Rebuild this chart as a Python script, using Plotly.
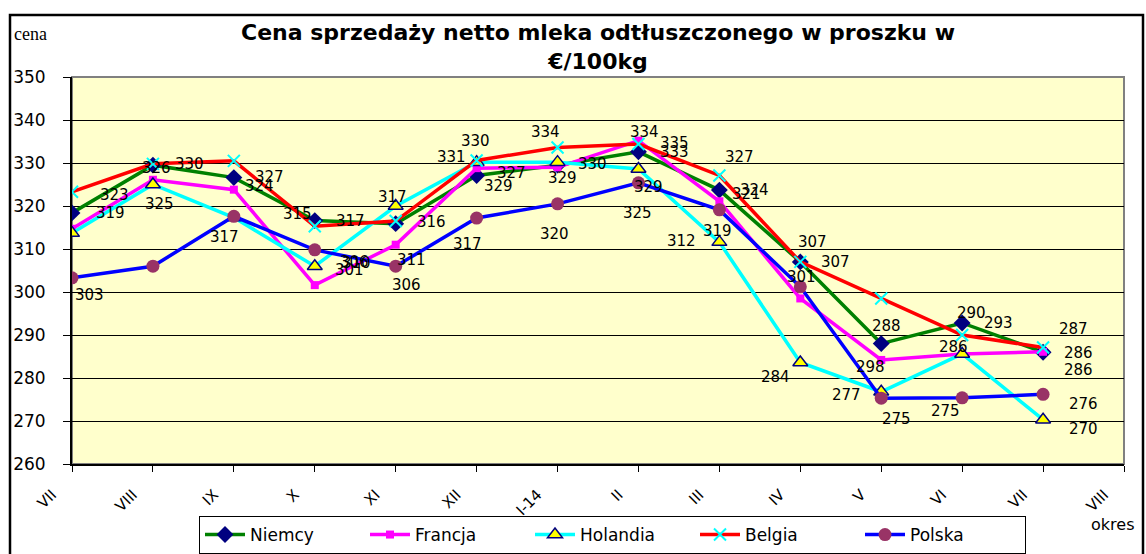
import plotly.graph_objects as go

# ---------------- data ----------------
categories = ["VII", "VIII", "IX", "X", "XI", "XII", "I-14", "II", "III", "IV", "V", "VI", "VII", "VIII"]

niemcy = [318.4, 329.5, 326.6, 316.6, 315.9, 327.1, 329.5, 332.6, 323.7, 307.0, 288.0, 292.8, 286.0]
francja = [314.7, 326.1, 323.8, 301.6, 311.0, 328.8, 329.0, 335.2, 321.1, 298.5, 284.2, 285.6, 286.1]
holandia = [313.7, 325.0, 317.3, 306.0, 320.0, 330.2, 330.2, 328.6, 311.6, 283.6, 276.8, 285.6, 270.3]
belgia = [323.3, 329.8, 330.5, 315.3, 316.5, 330.6, 333.6, 334.4, 327.1, 307.0, 298.5, 290.0, 287.1]
polska = [303.3, 306.0, 317.6, 309.8, 306.0, 317.2, 320.5, 325.4, 319.1, 301.2, 275.3, 275.4, 276.2]

# data labels as printed on the chart ("" = hidden / overlapped)
niemcy_labels = ["319", "330", "327", "317", "316", "327", "", "333", "324", "307", "288", "293", "286"]
francja_labels = ["", "326", "324", "301", "311", "329", "329", "335", "321", "298", "", "", "286"]
holandia_labels = ["", "325", "", "306", "", "330", "330", "329", "312", "284", "277", "286", "270"]
belgia_labels = ["323", "", "", "315", "317", "331", "334", "334", "327", "307", "", "290", "287"]
polska_labels = ["303", "", "317", "310", "306", "317", "320", "325", "319", "301", "275", "275", "276"]

# ---------------- styles ----------------
# label offsets in screen pixels (dx right, dy down)
niemcy_off = [(38, 0), (37, -1), (36, -1), (36, 0), (36, -2), (35, -2), (0, 0), (36, 0), (35, 0), (35, 0), (5, -18), (36, 0), (35, 1)]
francja_off = [(0, 0), (4, -12), (26, -4), (35, -15), (16, 15), (22, 18), (5, 11), (36, 2), (27, -7), (70, 69), (0, 0), (0, 0), (35, 18)]
holandia_off = [(0, 0), (7, 19), (0, 0), (40, -4), (0, 0), (-1, -21), (35, 2), (10, 18), (-38, -1), (-25, 14), (-35, 3), (-9, -7), (40, 9)]
belgia_off = [(42, 3), (0, 0), (0, 0), (-17, -12), (-3, -24), (-25, -3), (-12, -16), (6, -12), (20, -18), (12, -20), (0, 0), (9, -22), (30, -18)]
polska_off = [(17, 17), (0, 0), (-9, 21), (42, 13), (11, 19), (-9, 26), (-3, 30), (-1, 30), (-2, 21), (1, -10), (15, 21), (-17, 13), (40, 10)]

FONT = "DejaVu Sans, Arial, sans-serif"

series = [
    ("Niemcy", niemcy, niemcy_labels, niemcy_off,
     dict(color="#008000", width=3.5),
     dict(symbol="diamond", size=13, color="#000080")),
    ("Francja", francja, francja_labels, francja_off,
     dict(color="#FF00FF", width=3.5),
     dict(symbol="square", size=8, color="#FF00FF")),
    ("Holandia", holandia, holandia_labels, holandia_off,
     dict(color="#00FFFF", width=3.5),
     dict(symbol="triangle-up", size=13, color="#FFFF00", line=dict(color="#000080", width=1.5))),
    ("Belgia", belgia, belgia_labels, belgia_off,
     dict(color="#FF0000", width=3.5),
     dict(symbol="x-thin", size=12, color="#00FFFF", line=dict(color="#00FFFF", width=2))),
    ("Polska", polska, polska_labels, polska_off,
     dict(color="#0000FF", width=3.5),
     dict(symbol="circle", size=13, color="#993366")),
]

fig = go.Figure()
annotations = []
xs = list(range(len(niemcy)))
for name, vals, labels, offs, line, marker in series:
    fig.add_trace(go.Scatter(x=xs, y=vals, name=name, mode="lines+markers",
                             line=line, marker=marker))
    for i, (v, t, (dx, dy)) in enumerate(zip(vals, labels, offs)):
        if t:
            annotations.append(dict(x=i, y=v, xref="x", yref="y", text=t, showarrow=False,
                                    xshift=dx, yshift=-dy,
                                    font=dict(family=FONT, size=15, color="black")))

# plot-area geometry (pixels)
W, H = 1146, 554
L, R, T, B = 72, 22, 77, 90
pw, ph = W - L - R, H - T - B

def px(x):
    return (x - L) / pw

def py(y):
    return (H - B - y) / ph

annotations += [
    dict(xref="paper", yref="paper", x=px(598), y=py(47), xanchor="center", yanchor="middle",
         showarrow=False,
         text="<b>Cena sprzedaży netto mleka odtłuszczonego w proszku w<br>€/100kg</b>",
         font=dict(family=FONT, size=22, color="black")),
    dict(xref="paper", yref="paper", x=px(12), y=py(34), xanchor="left", yanchor="middle",
         showarrow=False,
         text="cena", font=dict(family="Liberation Serif, Times New Roman, serif", size=18, color="black")),
    dict(xref="paper", yref="paper", x=px(1112), y=py(524), xanchor="center", yanchor="middle",
         showarrow=False,
         text="okres", font=dict(family=FONT, size=16, color="black")),
]

shapes = [
    dict(type="rect", xref="paper", yref="paper", x0=0, x1=1, y0=0, y1=1,
         line=dict(color="#808080", width=2), layer="below"),
    dict(type="rect", xref="paper", yref="paper", x0=px(10), x1=px(1143), y0=py(560), y1=py(15),
         line=dict(color="black", width=2.5), layer="above"),
]

fig.update_layout(
    width=W, height=H,
    margin=dict(l=L, r=R, t=T, b=B, autoexpand=False),
    paper_bgcolor="white",
    plot_bgcolor="#FFFFCC",
    showlegend=True,
    legend=dict(orientation="h", x=px(199), y=py(516), xanchor="left", yanchor="top",
                bordercolor="black", borderwidth=1, bgcolor="white",
                font=dict(family=FONT, size=17, color="black"),
                entrywidth=110, itemwidth=40),
    annotations=annotations,
    shapes=shapes,
    xaxis=dict(range=[0, len(categories) - 1], tickmode="array",
               tickvals=list(range(len(categories))), ticktext=categories,
               tickangle=-45, ticks="outside", ticklen=6, tickcolor="black",
               ticklabelshift=-20, ticklabelstandoff=8,
               showline=True, linecolor="black", linewidth=2, showgrid=False, zeroline=False,
               tickfont=dict(family=FONT, size=15, color="black")),
    yaxis=dict(range=[260, 350], dtick=10, ticks="outside", ticklen=7, tickcolor="black",
               ticklabelstandoff=14,
               showline=True, linecolor="black", linewidth=2,
               showgrid=True, gridcolor="black", gridwidth=1, zeroline=False,
               tickfont=dict(family=FONT, size=17, color="black")),
)

fig.write_html("out.html", config={"displayModeBar": False},
               post_script="document.body.style.margin='0';")
